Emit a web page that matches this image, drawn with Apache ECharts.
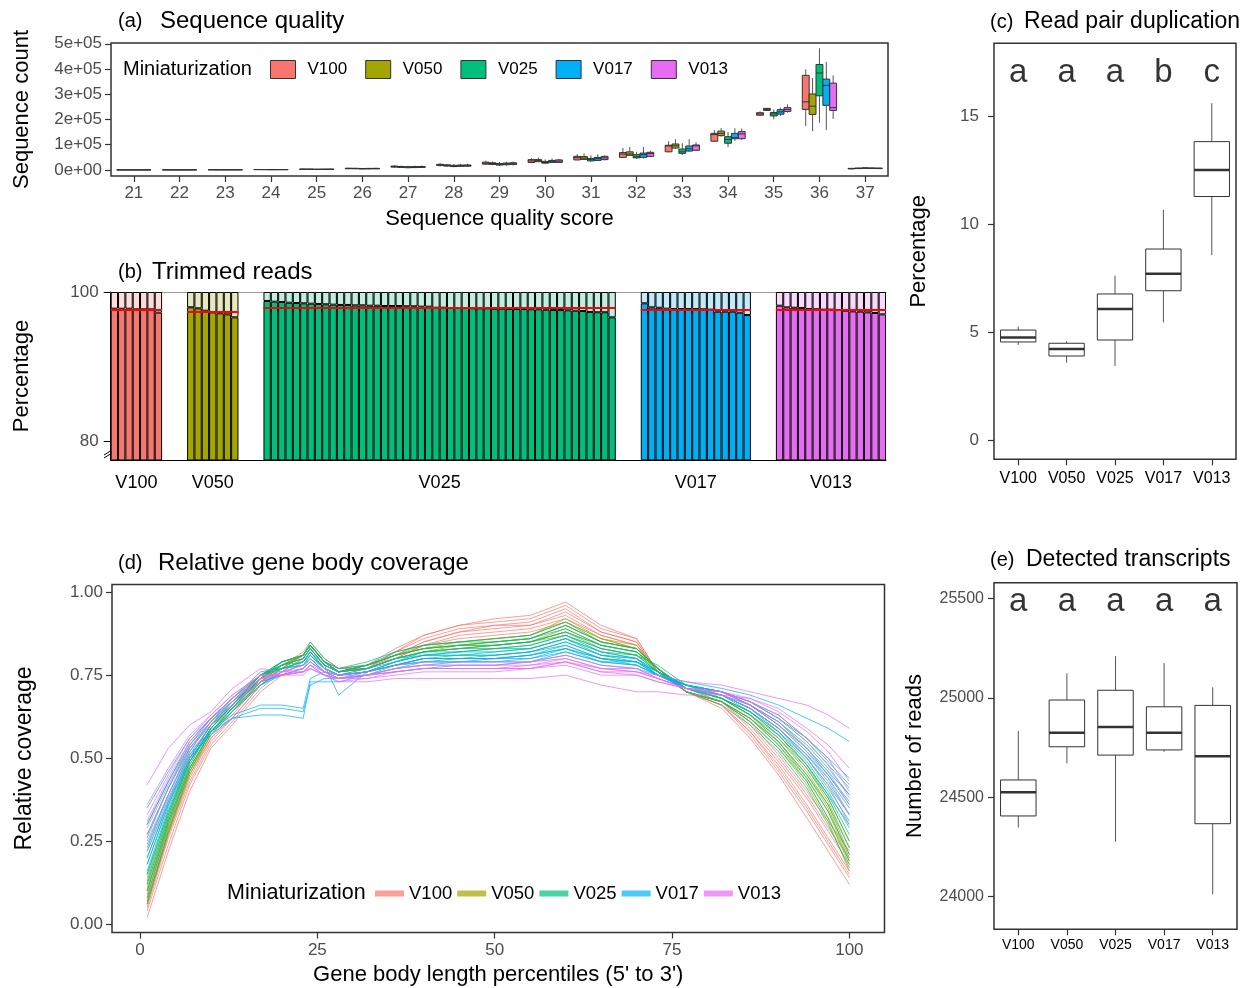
<!DOCTYPE html>
<html>
<head>
<meta charset="utf-8">
<script src="https://cdn.jsdelivr.net/npm/echarts@6/dist/echarts.min.js"></script>
<style>
  html, body { margin: 0; padding: 0; background: #fff; }
  #main { width: 1247px; height: 988px; }
</style>
</head>
<body>
<div id="main"></div>
<script>
var groups = ['V100', 'V050', 'V025', 'V017', 'V013'];
var colors = ['#F8766D', '#A3A500', '#00BF7D', '#00B0F6', '#E76BF3'];

// (a) sequence quality: [min, q1, median, q3, max] per score
var qualScores = ['21','22','23','24','25','26','27','28','29','30','31','32','33','34','35','36','37'];
var qualV100 = [[100,200,300,400,600],[200,400,500,600,900],[400,700,900,1100,1500],[900,1400,1700,2000,2600],[1800,2600,3100,3600,4600],[3500,5000,6000,7000,9000],[9000,11500,13500,15500,19000],[14000,17500,20000,22500,27000],[20000,23000,27000,31000,37000],[27000,30000,36000,41000,47000],[38000,40000,49000,54000,63000],[49000,50000,63000,69000,87000],[70000,72000,95000,98000,114000],[111000,114000,140000,145000,158000],[214000,217000,222000,227000,232000],[174000,240000,270000,375000,399000],[3000,4500,5500,6500,8000]];
var qualV050 = [[100,200,250,350,500],[200,350,450,550,800],[400,600,800,1000,1400],[800,1300,1600,1900,2500],[1700,2500,3000,3500,4400],[3500,4800,5800,6800,8500],[8000,10000,12000,14000,17000],[13000,15500,18000,20500,24000],[19000,22000,25500,28500,34000],[31000,33000,37000,41000,49000],[40000,42000,47000,53000,66000],[57000,58000,63000,72000,91000],[84000,87000,96000,103000,122000],[132000,136000,145000,154000,166000],[234000,236000,240000,244000,246000],[154000,220000,253000,301000,364000],[4000,5500,6500,7500,9000]];
var qualV025 = [[100,150,200,300,500],[150,300,400,500,800],[300,500,700,900,1400],[700,1100,1400,1700,2400],[1400,2100,2600,3100,4200],[3000,4200,5000,6000,8000],[7000,9000,11000,13000,16500],[11000,13500,16000,18500,23000],[16000,19500,22500,26000,32000],[24000,27000,30000,34000,42000],[33000,36000,42000,46000,58000],[44000,48000,53000,61000,72000],[59000,66000,72000,83000,106000],[91000,106000,121000,132000,150000],[201000,214000,222000,228000,240000],[187000,294000,384000,418000,482000],[5000,6500,7500,8500,10500]];
var qualV017 = [[100,200,250,350,550],[200,350,450,550,850],[350,600,750,950,1400],[750,1200,1500,1800,2500],[1500,2300,2800,3300,4400],[3200,4500,5400,6400,8200],[7500,9500,11500,13500,17000],[12000,14500,17000,19500,24000],[17000,21000,24000,27500,33000],[28000,30000,34000,38000,46000],[36000,38000,45000,50000,62000],[46000,50000,61000,67000,91000],[72000,75000,84000,95000,122000],[115000,124000,128000,145000,165000],[214000,221000,230000,239000,247000],[158000,256000,335000,360000,428000],[4500,6000,7000,8000,9500]];
var qualV013 = [[100,200,300,400,600],[200,350,450,600,900],[350,600,800,1000,1500],[800,1200,1500,1900,2600],[1600,2400,2900,3400,4500],[3300,4600,5600,6600,8400],[8000,10000,12000,14000,17500],[12500,15000,17500,20000,24500],[18000,22000,25000,28500,34000],[28000,30000,35000,40000,44000],[38000,41000,48000,54000,58000],[53000,54000,65000,70000,76000],[75000,78000,96000,99000,110000],[119000,124000,143000,152000,164000],[227000,232000,240000,247000,260000],[202000,236000,247000,344000,375000],[4000,5500,6500,7500,9000]];
var countTicks = [0, 100000, 200000, 300000, 400000, 500000];
var countTickLabels = ['0e+00', '1e+05', '2e+05', '3e+05', '4e+05', '5e+05'];

// (b) trimmed reads, percentage kept per sample
var trimV100 = [97.76, 97.76, 97.76, 97.67, 97.67, 97.67, 97.23];
var trimV050 = [97.95, 97.81, 97.49, 97.27, 97.14, 97.00, 96.60];
var trimV025 = [98.79, 98.70, 98.66, 98.56, 98.52, 98.48, 98.43, 98.39, 98.35, 98.30, 98.26, 98.26, 98.21, 98.21, 98.16, 98.16, 98.12, 98.12, 98.12, 98.08, 98.08, 98.03, 98.03,
                97.89, 97.89, 97.85, 97.85, 97.85, 97.81, 97.81, 97.81, 97.76, 97.76, 97.72, 97.72, 97.72, 97.68, 97.68, 97.62, 97.58, 97.58, 97.54, 97.49, 97.45, 97.32, 97.28, 97.28, 96.60];
var trimV017 = [98.48, 97.94, 97.89, 97.76, 97.72, 97.72, 97.72, 97.72, 97.68, 97.63, 97.36, 97.36, 97.36, 97.22, 96.91];
var trimV013 = [98.16, 97.94, 97.89, 97.85, 97.72, 97.68, 97.63, 97.63, 97.58, 97.49, 97.40, 97.36, 97.27, 97.18, 97.00];
var trimTicks = [80, 100];

// (c) read pair duplication
var dupBoxes = [[4.40,4.54,4.75,5.09,5.25],[3.58,3.89,4.21,4.48,4.57],[3.43,4.63,6.06,6.76,7.61],[5.45,6.91,7.70,8.84,10.65],[8.56,11.27,12.50,13.81,15.59]];
var dupLetters = ['a', 'a', 'a', 'b', 'c'];
var dupLetterY = 17;
var dupTicks = [0, 5, 10, 15];

// (d) relative gene body coverage
var pctX = [1, 4, 7, 10, 13, 17, 20, 23, 24, 26, 28, 32, 36, 40, 45, 50, 55, 60, 65, 70, 73, 77, 82, 86, 90, 94, 97, 100];
var covV100 = [
  [0.02,0.22,0.40,0.53,0.60,0.70,0.75,0.79,0.82,0.77,0.75,0.77,0.82,0.87,0.90,0.92,0.93,0.97,0.90,0.86,0.76,0.70,0.65,0.56,0.45,0.32,0.22,0.12],
  [0.04,0.24,0.42,0.54,0.61,0.71,0.76,0.80,0.83,0.78,0.76,0.78,0.83,0.87,0.90,0.91,0.92,0.96,0.89,0.86,0.76,0.70,0.66,0.57,0.46,0.34,0.24,0.14],
  [0.05,0.26,0.43,0.55,0.62,0.72,0.76,0.80,0.83,0.78,0.76,0.77,0.82,0.86,0.89,0.90,0.91,0.95,0.88,0.85,0.76,0.70,0.66,0.58,0.47,0.35,0.25,0.15],
  [0.06,0.27,0.44,0.56,0.62,0.72,0.77,0.81,0.84,0.79,0.77,0.77,0.81,0.85,0.88,0.90,0.90,0.94,0.88,0.85,0.76,0.70,0.66,0.58,0.48,0.36,0.26,0.16],
  [0.07,0.28,0.45,0.56,0.63,0.73,0.77,0.81,0.84,0.79,0.77,0.78,0.81,0.85,0.88,0.89,0.90,0.93,0.87,0.84,0.76,0.70,0.67,0.59,0.49,0.38,0.28,0.18],
  [0.08,0.29,0.46,0.57,0.64,0.73,0.78,0.81,0.84,0.79,0.77,0.77,0.80,0.84,0.87,0.88,0.89,0.92,0.87,0.84,0.76,0.70,0.67,0.60,0.50,0.39,0.29,0.20],
  [0.10,0.31,0.47,0.58,0.64,0.74,0.78,0.82,0.85,0.80,0.77,0.78,0.80,0.84,0.86,0.87,0.88,0.91,0.86,0.83,0.76,0.70,0.67,0.61,0.51,0.40,0.31,0.22]
];
var covV050 = [
  [0.06,0.27,0.45,0.57,0.64,0.73,0.77,0.81,0.84,0.79,0.76,0.78,0.81,0.84,0.85,0.86,0.87,0.92,0.86,0.84,0.77,0.70,0.67,0.61,0.53,0.42,0.31,0.16],
  [0.07,0.28,0.46,0.57,0.64,0.73,0.78,0.81,0.84,0.79,0.76,0.78,0.81,0.83,0.85,0.86,0.87,0.91,0.86,0.83,0.77,0.70,0.67,0.62,0.54,0.43,0.32,0.18],
  [0.09,0.29,0.47,0.58,0.65,0.73,0.78,0.81,0.84,0.79,0.76,0.78,0.81,0.83,0.84,0.85,0.86,0.90,0.85,0.83,0.77,0.70,0.67,0.62,0.55,0.44,0.34,0.19],
  [0.10,0.30,0.47,0.58,0.65,0.74,0.78,0.81,0.84,0.79,0.76,0.78,0.81,0.83,0.84,0.85,0.86,0.90,0.85,0.83,0.77,0.70,0.67,0.62,0.55,0.45,0.35,0.20],
  [0.11,0.31,0.48,0.59,0.65,0.74,0.78,0.81,0.84,0.79,0.76,0.77,0.80,0.82,0.84,0.84,0.85,0.89,0.84,0.82,0.77,0.71,0.68,0.63,0.56,0.46,0.36,0.21],
  [0.12,0.32,0.49,0.59,0.66,0.74,0.78,0.81,0.84,0.79,0.76,0.77,0.80,0.82,0.83,0.84,0.85,0.88,0.84,0.82,0.77,0.71,0.68,0.63,0.57,0.47,0.37,0.23],
  [0.14,0.33,0.50,0.60,0.66,0.75,0.79,0.81,0.84,0.79,0.76,0.77,0.80,0.82,0.83,0.84,0.85,0.87,0.83,0.81,0.77,0.71,0.68,0.64,0.58,0.48,0.38,0.25]
];
var covV025 = [
  [0.06,0.28,0.46,0.58,0.65,0.74,0.79,0.81,0.85,0.80,0.77,0.79,0.82,0.84,0.85,0.86,0.87,0.91,0.85,0.83,0.77,0.70,0.66,0.60,0.52,0.41,0.30,0.17],
  [0.08,0.30,0.47,0.58,0.65,0.74,0.79,0.81,0.84,0.79,0.77,0.78,0.82,0.84,0.85,0.85,0.86,0.90,0.85,0.83,0.77,0.70,0.67,0.61,0.53,0.43,0.32,0.19],
  [0.10,0.31,0.48,0.59,0.66,0.75,0.79,0.81,0.84,0.79,0.76,0.78,0.81,0.83,0.84,0.85,0.86,0.89,0.84,0.82,0.77,0.71,0.67,0.62,0.54,0.44,0.34,0.21],
  [0.12,0.32,0.49,0.59,0.66,0.75,0.79,0.81,0.84,0.79,0.76,0.78,0.81,0.83,0.84,0.84,0.85,0.88,0.84,0.82,0.76,0.71,0.68,0.63,0.55,0.45,0.36,0.23],
  [0.13,0.33,0.49,0.59,0.66,0.75,0.78,0.80,0.83,0.78,0.76,0.77,0.80,0.82,0.83,0.84,0.85,0.88,0.83,0.81,0.76,0.71,0.68,0.63,0.56,0.47,0.38,0.25],
  [0.15,0.34,0.50,0.60,0.66,0.74,0.78,0.80,0.83,0.78,0.69,0.76,0.79,0.82,0.83,0.83,0.84,0.87,0.83,0.81,0.78,0.72,0.68,0.64,0.57,0.48,0.39,0.27],
  [0.16,0.35,0.50,0.60,0.67,0.75,0.78,0.80,0.83,0.78,0.76,0.77,0.80,0.82,0.82,0.83,0.84,0.87,0.82,0.81,0.76,0.71,0.68,0.64,0.58,0.49,0.40,0.29],
  [0.18,0.36,0.51,0.60,0.67,0.75,0.78,0.79,0.82,0.77,0.75,0.77,0.79,0.81,0.82,0.83,0.83,0.86,0.82,0.80,0.76,0.71,0.69,0.65,0.59,0.50,0.41,0.31],
  [0.20,0.37,0.52,0.61,0.67,0.74,0.77,0.79,0.82,0.77,0.75,0.76,0.79,0.81,0.81,0.82,0.83,0.86,0.81,0.80,0.76,0.72,0.69,0.65,0.59,0.51,0.43,0.33],
  [0.23,0.39,0.53,0.61,0.68,0.75,0.77,0.79,0.81,0.77,0.75,0.76,0.78,0.80,0.81,0.81,0.82,0.85,0.81,0.79,0.76,0.72,0.69,0.66,0.60,0.53,0.45,0.36],
  [0.26,0.41,0.54,0.62,0.68,0.75,0.77,0.78,0.81,0.77,0.75,0.76,0.78,0.80,0.80,0.81,0.82,0.84,0.80,0.79,0.76,0.72,0.70,0.66,0.61,0.54,0.47,0.39],
  [0.30,0.43,0.55,0.62,0.68,0.76,0.77,0.78,0.80,0.76,0.74,0.75,0.78,0.79,0.80,0.80,0.81,0.83,0.80,0.78,0.75,0.72,0.70,0.67,0.62,0.56,0.49,0.42]
];
var covV017 = [
  [0.15,0.34,0.49,0.58,0.64,0.72,0.77,0.79,0.82,0.78,0.76,0.77,0.80,0.81,0.82,0.82,0.83,0.86,0.82,0.80,0.75,0.71,0.69,0.64,0.57,0.48,0.39,0.30],
  [0.18,0.36,0.50,0.58,0.64,0.72,0.76,0.78,0.81,0.77,0.75,0.76,0.79,0.81,0.81,0.81,0.82,0.85,0.81,0.80,0.75,0.71,0.69,0.65,0.58,0.50,0.42,0.33],
  [0.20,0.37,0.50,0.57,0.62,0.65,0.65,0.64,0.72,0.74,0.74,0.76,0.78,0.80,0.80,0.80,0.81,0.84,0.80,0.79,0.75,0.71,0.69,0.65,0.59,0.51,0.44,0.35],
  [0.22,0.38,0.51,0.58,0.63,0.66,0.66,0.65,0.74,0.76,0.75,0.76,0.78,0.80,0.80,0.80,0.81,0.83,0.80,0.79,0.75,0.72,0.70,0.66,0.60,0.52,0.45,0.37],
  [0.24,0.39,0.52,0.58,0.62,0.63,0.63,0.62,0.73,0.73,0.73,0.75,0.77,0.79,0.79,0.79,0.80,0.82,0.79,0.78,0.75,0.72,0.70,0.66,0.61,0.53,0.46,0.39],
  [0.27,0.41,0.53,0.60,0.65,0.72,0.75,0.77,0.80,0.76,0.75,0.76,0.78,0.79,0.79,0.80,0.80,0.83,0.79,0.79,0.75,0.72,0.70,0.67,0.62,0.55,0.48,0.41],
  [0.30,0.43,0.54,0.61,0.66,0.73,0.75,0.77,0.79,0.76,0.74,0.75,0.77,0.78,0.79,0.79,0.79,0.82,0.79,0.78,0.75,0.72,0.70,0.67,0.63,0.56,0.50,0.44],
  [0.35,0.46,0.56,0.62,0.67,0.73,0.75,0.76,0.78,0.75,0.74,0.75,0.76,0.77,0.78,0.78,0.79,0.81,0.78,0.77,0.75,0.73,0.71,0.69,0.66,0.62,0.59,0.55]
];
var covV013 = [
  [0.22,0.37,0.50,0.60,0.66,0.73,0.76,0.78,0.80,0.77,0.75,0.76,0.78,0.79,0.79,0.79,0.79,0.81,0.78,0.77,0.74,0.71,0.69,0.65,0.59,0.50,0.42,0.30],
  [0.25,0.39,0.52,0.61,0.67,0.74,0.76,0.77,0.79,0.76,0.75,0.75,0.77,0.78,0.78,0.78,0.79,0.80,0.77,0.77,0.74,0.71,0.69,0.66,0.60,0.52,0.44,0.33],
  [0.27,0.41,0.53,0.61,0.67,0.74,0.75,0.77,0.79,0.76,0.74,0.75,0.77,0.78,0.78,0.78,0.78,0.80,0.77,0.76,0.74,0.71,0.70,0.66,0.61,0.53,0.46,0.36],
  [0.29,0.42,0.54,0.62,0.68,0.74,0.75,0.76,0.78,0.76,0.74,0.75,0.76,0.77,0.77,0.77,0.78,0.79,0.76,0.76,0.74,0.71,0.70,0.67,0.62,0.55,0.48,0.38],
  [0.31,0.44,0.55,0.62,0.68,0.75,0.75,0.76,0.78,0.75,0.74,0.74,0.76,0.77,0.77,0.77,0.77,0.79,0.76,0.75,0.73,0.71,0.70,0.67,0.63,0.56,0.50,0.40],
  [0.33,0.45,0.56,0.63,0.69,0.75,0.75,0.76,0.77,0.75,0.73,0.74,0.75,0.76,0.76,0.76,0.77,0.78,0.75,0.75,0.73,0.71,0.70,0.68,0.64,0.58,0.52,0.43],
  [0.36,0.47,0.57,0.63,0.69,0.75,0.75,0.75,0.77,0.75,0.73,0.73,0.74,0.74,0.74,0.74,0.74,0.75,0.72,0.70,0.70,0.69,0.69,0.68,0.65,0.59,0.54,0.47],
  [0.42,0.53,0.60,0.64,0.71,0.77,0.76,0.76,0.77,0.75,0.74,0.75,0.76,0.77,0.77,0.77,0.77,0.79,0.77,0.76,0.75,0.73,0.72,0.70,0.68,0.66,0.63,0.59]
];
var pctTicks = [0, 25, 50, 75, 100];
var covTicks = [0, 0.25, 0.5, 0.75, 1];

// (e) detected transcripts
var txBoxes = [[24347,24406,24525,24587,24833],[24671,24754,24825,24989,25123],[24277,24712,24853,25038,25209],[24729,24738,24825,24955,25175],[24012,24367,24706,24962,25053]];
var txLetters = ['a', 'a', 'a', 'a', 'a'];
var txLetterY = 25480;
var txTicks = [24000, 24500, 25000, 25500];

var FONT = '"Liberation Sans", Arial, sans-serif';
var TICK = '#4D4D4D';
var FRAME = '#333';

function alpha(hex, a) {
  var n = parseInt(hex.slice(1), 16);
  return 'rgba(' + (n >> 16) + ',' + ((n >> 8) & 255) + ',' + (n & 255) + ',' + a + ')';
}

// box + whiskers (no caps) drawn through the axes
function boxRender(offset, widthFrac, fill, medWidth) {
  return function (params, api) {
    var i = api.value(0);
    var band = api.size([1, 0])[0];
    var cx = api.coord([i, api.value(3)])[0] + band * offset;
    var w = band * widthFrac;
    var yMin = api.coord([i, api.value(1)])[1];
    var yQ1 = api.coord([i, api.value(2)])[1];
    var yMed = api.coord([i, api.value(3)])[1];
    var yQ3 = api.coord([i, api.value(4)])[1];
    var yMax = api.coord([i, api.value(5)])[1];
    return {
      type: 'group',
      children: [
        { type: 'line', shape: { x1: cx, y1: yMax, x2: cx, y2: yQ3 }, style: { stroke: '#555', lineWidth: 1 } },
        { type: 'line', shape: { x1: cx, y1: yQ1, x2: cx, y2: yMin }, style: { stroke: '#555', lineWidth: 1 } },
        { type: 'rect', shape: { x: cx - w / 2, y: yQ3, width: w, height: yQ1 - yQ3 }, style: { fill: fill, stroke: FRAME, lineWidth: 1 } },
        { type: 'line', shape: { x1: cx - w / 2, y1: yMed, x2: cx + w / 2, y2: yMed }, style: { stroke: FRAME, lineWidth: medWidth } }
      ]
    };
  };
}

function boxData(rows) {
  return rows.map(function (r, i) { return [i].concat(r); });
}

function framedGrid(l, t, w, h) {
  return { left: l, top: t, width: w, height: h, show: true, borderColor: FRAME, borderWidth: 1.5, backgroundColor: 'transparent' };
}

function tickAxis(extra) {
  var base = {
    axisLine: { show: false, onZero: false },
    axisTick: { show: true, length: 6, lineStyle: { color: FRAME, width: 1.2 } },
    splitLine: { show: false },
    nameTextStyle: { fontFamily: FONT, fontSize: 22, color: '#000' }
  };
  for (var k in extra) base[k] = extra[k];
  return base;
}

var chart = echarts.init(document.getElementById('main'), null, { renderer: 'canvas' });

var grid = [], xAxis = [], yAxis = [], series = [];

// ---------- (a)
grid.push(framedGrid(111, 43, 777, 133));
xAxis.push(tickAxis({
  gridIndex: 0, type: 'category', data: qualScores,
  name: 'Sequence quality score', nameLocation: 'middle', nameGap: 32,
  axisTick: { show: true, alignWithLabel: true, interval: 0, length: 6, lineStyle: { color: FRAME, width: 1.2 } },
  axisLabel: { color: TICK, fontSize: 17, fontFamily: FONT, margin: 9, interval: 0 }
}));
yAxis.push(tickAxis({
  gridIndex: 0, type: 'value', min: -23800, max: 503000,
  name: 'Sequence count', nameLocation: 'middle', nameGap: 78,
  axisTick: { show: true, length: 6, customValues: countTicks, lineStyle: { color: FRAME, width: 1.2 } },
  axisLabel: { color: TICK, fontSize: 17, fontFamily: FONT, margin: 9, customValues: countTicks,
    formatter: function (v) { return countTickLabels[countTicks.indexOf(v)]; } }
}));
var qualSets = [qualV100, qualV050, qualV025, qualV017, qualV013];
qualSets.forEach(function (rows, k) {
  series.push({
    type: 'custom', name: groups[k], xAxisIndex: 0, yAxisIndex: 0,
    renderItem: boxRender(-0.3 + 0.15 * k, 0.15, colors[k], 1),
    encode: { x: 0, y: [1, 2, 3, 4, 5] },
    itemStyle: { color: colors[k] },
    data: boxData(rows)
  });
});

// ---------- (b)
var trimSets = [trimV100, trimV050, trimV025, trimV017, trimV013];
var bLeft = 110.7, bWidth = 775.3, bGap = 25, bTop = 292, bHeight = 168;
var nBars = trimSets.reduce(function (s, a) { return s + a.length; }, 0);
var barW = (bWidth - bGap * 4) / nBars;
grid.push({ left: bLeft, top: bTop, width: bWidth, height: bHeight });
xAxis.push({ gridIndex: 1, type: 'value', min: 0, max: 1, position: 'bottom',
  axisLine: { show: true, onZero: false, lineStyle: { color: '#000', width: 1 } }, axisTick: { show: false }, axisLabel: { show: false }, splitLine: { show: false } });
xAxis.push({ gridIndex: 1, type: 'value', min: 0, max: 1, position: 'top',
  axisLine: { show: true, onZero: false, lineStyle: { color: '#999', width: 1 } }, axisTick: { show: false }, axisLabel: { show: false }, splitLine: { show: false } });
yAxis.push({
  gridIndex: 1, type: 'value', min: 77.45, max: 100,
  name: 'Percentage', nameLocation: 'middle', nameGap: 78,
  nameTextStyle: { fontFamily: FONT, fontSize: 22, color: '#000' },
  axisLine: { show: true, onZero: false, lineStyle: { color: '#000', width: 1 } },
  axisTick: { show: true, length: 7, customValues: trimTicks, lineStyle: { color: '#000' } },
  axisLabel: { color: TICK, fontSize: 17, fontFamily: FONT, margin: 12, customValues: trimTicks },
  splitLine: { show: false }
});
var fx = bLeft;
trimSets.forEach(function (vals, k) {
  var w = vals.length * barW;
  var gi = grid.length;
  grid.push({ left: fx, top: bTop, width: w, height: bHeight });
  fx += w + bGap;
  var xi = xAxis.length, yi = yAxis.length;
  xAxis.push({ gridIndex: gi, type: 'category', data: vals.map(function (v, i) { return String(i + 1); }),
    name: groups[k], nameLocation: 'middle', nameGap: 14,
    nameTextStyle: { fontFamily: FONT, fontSize: 18, color: '#000' },
    axisLine: { show: false, onZero: false }, axisTick: { show: false }, axisLabel: { show: false }, splitLine: { show: false } });
  yAxis.push({ gridIndex: gi, type: 'value', min: 77.45, max: 100, show: false });
  series.push({
    type: 'bar', xAxisIndex: xi, yAxisIndex: yi, stack: 'trim' + k, barCategoryGap: '0%',
    data: vals,
    itemStyle: { color: colors[k], borderColor: '#000', borderWidth: 1 },
    markLine: { silent: true, symbol: 'none', label: { show: false },
      lineStyle: { color: '#FF0000', width: 2, type: 'solid' },
      data: [{ type: 'average' }] }
  });
  series.push({
    type: 'bar', xAxisIndex: xi, yAxisIndex: yi, stack: 'trim' + k, barCategoryGap: '0%',
    data: vals.map(function (v) { return +(100 - v).toFixed(2); }),
    itemStyle: { color: alpha(colors[k], 0.25), borderColor: '#000', borderWidth: 1 }
  });
});

// ---------- (c)
var gC = grid.length;
grid.push(framedGrid(994, 43.3, 242, 416));
var xC = xAxis.length;
xAxis.push(tickAxis({ gridIndex: gC, type: 'category', data: groups,
  axisTick: { show: true, alignWithLabel: true, interval: 0, length: 6, lineStyle: { color: FRAME, width: 1.2 } },
  axisLabel: { color: '#000', fontSize: 16, fontFamily: FONT, margin: 11, interval: 0 } }));
var yC = yAxis.length;
yAxis.push(tickAxis({ gridIndex: gC, type: 'value', min: -0.89, max: 18.36,
  name: 'Percentage', nameLocation: 'middle', nameGap: 64,
  axisTick: { show: true, length: 6, customValues: dupTicks, lineStyle: { color: FRAME, width: 1.2 } },
  axisLabel: { color: TICK, fontSize: 17, fontFamily: FONT, margin: 15, customValues: dupTicks } }));
series.push({
  type: 'custom', name: 'dup', xAxisIndex: xC, yAxisIndex: yC,
  renderItem: boxRender(0, 0.73, '#fff', 2.5),
  encode: { x: 0, y: [1, 2, 3, 4, 5] },
  data: boxData(dupBoxes)
});
series.push({
  type: 'scatter', xAxisIndex: xC, yAxisIndex: yC, symbolSize: 1,
  itemStyle: { color: 'transparent' },
  label: { show: true, position: 'inside', fontSize: 33, fontFamily: FONT, color: '#000',
    formatter: function (p) { return dupLetters[p.dataIndex]; } },
  data: dupLetters.map(function (l, i) { return [i, dupLetterY]; })
});

// ---------- (d)
var gD = grid.length;
grid.push(framedGrid(112, 584.5, 772.5, 348));
var xD = xAxis.length;
xAxis.push(tickAxis({ gridIndex: gD, type: 'value', min: -3.95, max: 104.95,
  name: "Gene body length percentiles (5' to 3')", nameLocation: 'middle', nameGap: 31,
  axisTick: { show: true, length: 6, customValues: pctTicks, lineStyle: { color: FRAME, width: 1.2 } },
  axisLabel: { color: TICK, fontSize: 17, fontFamily: FONT, margin: 9, customValues: pctTicks } }));
var yD = yAxis.length;
yAxis.push(tickAxis({ gridIndex: gD, type: 'value', min: -0.025, max: 1.023,
  name: 'Relative coverage', nameLocation: 'middle', nameGap: 76,
  nameTextStyle: { fontFamily: FONT, fontSize: 23, color: '#000' },
  axisTick: { show: true, length: 6, customValues: covTicks, lineStyle: { color: FRAME, width: 1.2 } },
  axisLabel: { color: TICK, fontSize: 17, fontFamily: FONT, margin: 9, customValues: covTicks,
    formatter: function (v) { return v.toFixed(2); } } }));
var covSets = [covV100, covV050, covV025, covV017, covV013];
covSets.forEach(function (lines, k) {
  lines.forEach(function (ys) {
    series.push({
      type: 'line', name: groups[k], xAxisIndex: xD, yAxisIndex: yD,
      symbol: 'none', silent: true, legendHoverLink: false,
      color: alpha(colors[k], 0.7),
      lineStyle: { width: 1, color: alpha(colors[k], 0.7) },
      data: ys.map(function (y, i) { return [pctX[i], y]; })
    });
  });
});

// ---------- (e)
var gE = grid.length;
grid.push(framedGrid(994, 582.7, 243, 346.6));
var xE = xAxis.length;
xAxis.push(tickAxis({ gridIndex: gE, type: 'category', data: groups,
  axisTick: { show: true, alignWithLabel: true, interval: 0, length: 6, lineStyle: { color: FRAME, width: 1.2 } },
  axisLabel: { color: '#000', fontSize: 14, fontFamily: FONT, margin: 9, interval: 0 } }));
var yE = yAxis.length;
yAxis.push(tickAxis({ gridIndex: gE, type: 'value', min: 23836, max: 25579,
  name: 'Number of reads', nameLocation: 'middle', nameGap: 68,
  axisTick: { show: true, length: 6, customValues: txTicks, lineStyle: { color: FRAME, width: 1.2 } },
  axisLabel: { color: TICK, fontSize: 16, fontFamily: FONT, margin: 10, customValues: txTicks,
    formatter: function (v) { return String(v); } } }));
series.push({
  type: 'custom', name: 'tx', xAxisIndex: xE, yAxisIndex: yE,
  renderItem: boxRender(0, 0.73, '#fff', 2.5),
  encode: { x: 0, y: [1, 2, 3, 4, 5] },
  data: boxData(txBoxes)
});
series.push({
  type: 'scatter', xAxisIndex: xE, yAxisIndex: yE, symbolSize: 1,
  itemStyle: { color: 'transparent' },
  label: { show: true, position: 'inside', fontSize: 33, fontFamily: FONT, color: '#000',
    formatter: function (p) { return txLetters[p.dataIndex]; } },
  data: txLetters.map(function (l, i) { return [i, txLetterY]; })
});

// titles and legend headings
function txt(x, y, s, size) {
  return { type: 'text', x: x, y: y, silent: true,
    style: { text: s, fontSize: size, fontFamily: FONT, fill: '#000', verticalAlign: 'middle' } };
}
var graphic = [
  txt(118, 21, '(a)', 20), txt(160, 21, 'Sequence quality', 24),
  txt(118, 272, '(b)', 20), txt(152, 272, 'Trimmed reads', 24),
  txt(990, 22, '(c)', 20), txt(1024, 22, 'Read pair duplication', 23),
  txt(118, 563, '(d)', 20), txt(158, 563, 'Relative gene body coverage', 24),
  txt(990, 560, '(e)', 20), txt(1026, 560, 'Detected transcripts', 23),
  txt(123, 69, 'Miniaturization', 20),
  txt(227, 893, 'Miniaturization', 21.5),
  { type: 'polyline', silent: true, shape: { points: [[104, 455], [112, 450]] }, style: { stroke: '#000', lineWidth: 1 } },
  { type: 'polyline', silent: true, shape: { points: [[104, 458], [112, 453]] }, style: { stroke: '#000', lineWidth: 1 } }
];

var option = {
  animation: false,
  backgroundColor: '#fff',
  textStyle: { fontFamily: FONT },
  grid: grid,
  xAxis: xAxis,
  yAxis: yAxis,
  graphic: graphic,
  legend: [
    {
      left: 265, top: 55, orient: 'horizontal', itemWidth: 25, itemHeight: 18, itemGap: 18,
      selectedMode: false,
      textStyle: { fontSize: 17, fontFamily: FONT, color: '#000', padding: [0, 0, 0, 7] },
      data: groups.map(function (g, k) {
        return { name: g, icon: 'rect', itemStyle: { color: colors[k], borderColor: FRAME, borderWidth: 1 } };
      })
    },
    {
      left: 370, top: 879, orient: 'horizontal', itemWidth: 29, itemHeight: 6, itemGap: 5,
      selectedMode: false,
      textStyle: { fontSize: 18.5, fontFamily: FONT, color: '#000' },
      data: groups.map(function (g, k) {
        return { name: g, icon: 'rect', itemStyle: { color: alpha(colors[k], 0.7), borderWidth: 0 } };
      })
    }
  ],
  series: series
};
chart.setOption(option);
</script>
</body>
</html>
